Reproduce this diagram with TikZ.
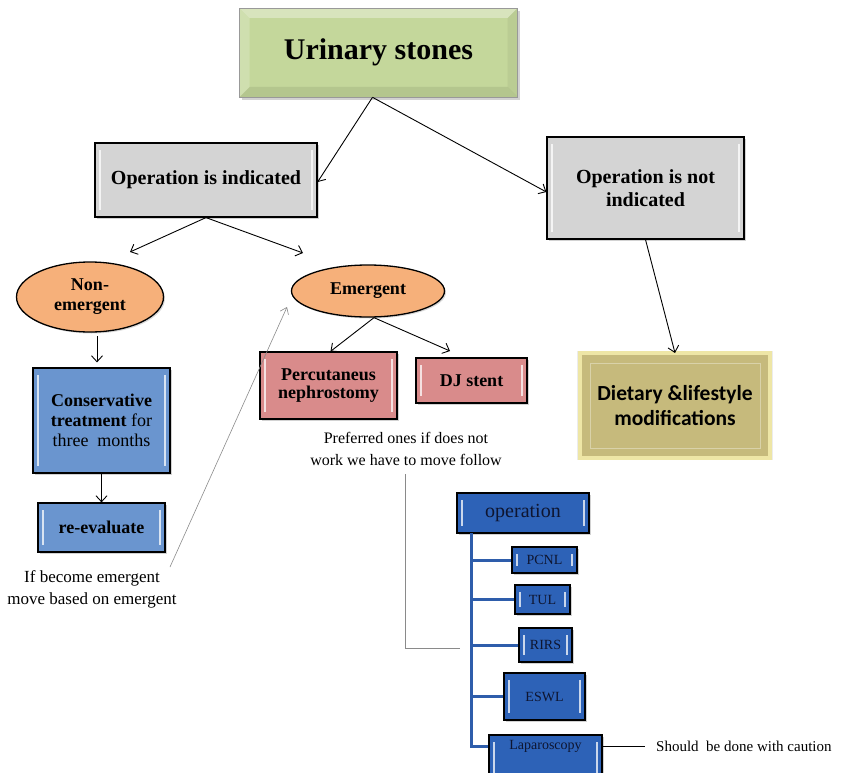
\documentclass[tikz,border=0pt]{standalone}
\usepackage{fontspec}
\setmainfont{Liberation Serif}
\newfontfamily\calib{Carlito}
\usetikzlibrary{shapes.geometric,arrows.meta,shadows}
\definecolor{cgreen}{HTML}{C4D79B}
\definecolor{cgray}{HTML}{D4D4D4}
\definecolor{corange}{HTML}{F6B07A}
\definecolor{cblue}{HTML}{6A95CF}
\definecolor{cpink}{HTML}{D98B8B}
\definecolor{colive}{HTML}{C6BA7C}
\definecolor{cglow}{HTML}{EEE6A6}
\definecolor{cdblue}{HTML}{2D62B7}
\definecolor{cbline}{HTML}{2E5DAB}
\definecolor{cnavy}{HTML}{0E1530}
\definecolor{cgline}{HTML}{8A8A8A}
\tikzset{
  bevel/.style={path picture={
    \draw[white,opacity=.75,line width=2pt]
      ([xshift=5pt,yshift=-7pt]path picture bounding box.north west) --
      ([xshift=5pt,yshift=7pt]path picture bounding box.south west);
    \draw[white,opacity=.75,line width=2pt]
      ([xshift=-5pt,yshift=-7pt]path picture bounding box.north east) --
      ([xshift=-5pt,yshift=7pt]path picture bounding box.south east);}},
  boxbase/.style={rectangle,draw=black,line width=1.2pt,align=center,
    drop shadow={shadow xshift=2pt,shadow yshift=-2pt,opacity=.35},inner sep=2pt},
  graybox/.style={boxbase,fill=cgray,bevel,font=\bfseries\fontsize{20}{23}\selectfont},
  bluebox/.style={boxbase,fill=cblue,bevel,font=\bfseries\fontsize{18}{20}\selectfont},
  pinkbox/.style={boxbase,fill=cpink,bevel,font=\bfseries\fontsize{18}{18.5}\selectfont},
  opbox/.style={boxbase,fill=cdblue,bevel,text=cnavy,font=\fontsize{14}{16}\selectfont},
  ell/.style={ellipse,draw=black,line width=1.3pt,fill=corange,align=center,
    inner sep=0pt,font=\bfseries\fontsize{18}{20}\selectfont,
    drop shadow={shadow xshift=1.5pt,shadow yshift=-1.5pt,opacity=.3}},
  arr/.style={draw=black,line width=0.9pt,-{Straight Barb[length=6pt,width=11pt]}},
  grayarr/.style={draw=cgline,line width=0.6pt,-{Straight Barb[length=6pt,width=9pt]}},
  bline/.style={draw=cbline,line width=3pt},
  plain/.style={align=center,font=\fontsize{16}{22}\selectfont},
}
\begin{document}
\begin{tikzpicture}[x=1pt,y=-1pt]
\useasboundingbox[fill=white] (0,0) rectangle (848,773);
% title
\node[rectangle,fill=cgreen,draw=black!40,line width=0.6pt,
  minimum width=278pt,minimum height=89pt,
  drop shadow={shadow xshift=2pt,shadow yshift=-3pt,opacity=.35},
  path picture={
    \fill[white,opacity=.35] (path picture bounding box.north west) --
      (path picture bounding box.north east) --
      ([xshift=-10pt,yshift=-10pt]path picture bounding box.north east) --
      ([xshift=10pt,yshift=-10pt]path picture bounding box.north west) -- cycle;
    \fill[white,opacity=.2] (path picture bounding box.north west) --
      ([xshift=10pt,yshift=-10pt]path picture bounding box.north west) --
      ([xshift=10pt,yshift=10pt]path picture bounding box.south west) --
      (path picture bounding box.south west) -- cycle;
    \fill[black,opacity=.08] (path picture bounding box.south west) --
      ([xshift=10pt,yshift=10pt]path picture bounding box.south west) --
      ([xshift=-10pt,yshift=10pt]path picture bounding box.south east) --
      (path picture bounding box.south east) -- cycle;
    \fill[black,opacity=.05] (path picture bounding box.north east) --
      ([xshift=-10pt,yshift=-10pt]path picture bounding box.north east) --
      ([xshift=-10pt,yshift=10pt]path picture bounding box.south east) --
      (path picture bounding box.south east) -- cycle;},
  font=\bfseries\fontsize{30}{34}\selectfont] (us) at (378.5,52.5) {Urinary stones};
% level 2
\node[graybox,minimum width=222pt,minimum height=74pt] (opi) at (206,180) {Operation is indicated};
\node[graybox,minimum width=197pt,minimum height=102pt] (opn) at (645.5,188) {Operation is not\\indicated};
% ellipses
\node[ell,minimum width=147pt,minimum height=70pt] (ne) at (90,297) {Non-\\emergent};
\node[ell,minimum width=153pt,minimum height=52pt] (em) at (368,291) {Emergent};
% left column
\node[bluebox,minimum width=137pt,minimum height=105pt] (ct) at (101.5,420.5)
  {Conservative\\treatment \textmd{for}\\\textmd{three\ \ months}};
\node[bluebox,minimum width=127pt,minimum height=49pt] (re) at (101.5,527.5) {re-evaluate};
\node[plain,font=\fontsize{17}{22}\selectfont] (ifb) at (92,589) {If become emergent\\move based on emergent};
% emergent children
\node[pinkbox,minimum width=137pt,minimum height=67pt] (pn) at (328.5,385.5) {Percutaneus\\nephrostomy};
\node[pinkbox,minimum width=111pt,minimum height=45pt] (dj) at (471.5,380.5) {DJ stent};
\node[plain] (pref) at (406,449) {Preferred ones if does not\\work we have to move follow};
% dietary
\node[rectangle,fill=colive,draw=cglow,line width=4pt,align=center,
  minimum width=190pt,minimum height=105pt,
  drop shadow={shadow xshift=0pt,shadow yshift=0pt,opacity=.15,shadow scale=1.03},
  path picture={
    \draw[white,opacity=.35,line width=1pt]
      ([xshift=10pt,yshift=-10pt]path picture bounding box.north west) rectangle
      ([xshift=-10pt,yshift=10pt]path picture bounding box.south east);},
  font=\calib\bfseries\fontsize{21.5}{25}\selectfont] (dl) at (675,405.5) {Dietary \&lifestyle\\modifications};
% operation list
\node[opbox,minimum width=132pt,minimum height=40pt,font=\fontsize{20}{22}\selectfont] (op) at (523,513) {operation};
\node[opbox,minimum width=65pt,minimum height=26pt] (pcnl) at (544.5,560) {PCNL};
\node[opbox,minimum width=55pt,minimum height=29pt] (tul) at (542.5,599.5) {TUL};
\node[opbox,minimum width=53pt,minimum height=34pt] (rirs) at (545.5,645) {RIRS};
\node[opbox,minimum width=81pt,minimum height=47pt] (eswl) at (544.5,696.5) {ESWL};
\node[opbox,minimum width=113pt,minimum height=46pt] (lap) at (545.5,758) {};
\node[text=cnavy,font=\fontsize{14}{16}\selectfont,inner sep=0pt] (laptext) at (545.5,746) {Laparoscopy};
\node[anchor=west,font=\fontsize{15}{18}\selectfont,inner sep=0pt] (caut) at (656,746) {Should\ \ be done with caution};
% coordinates
\coordinate (neT) at (130,252);
\coordinate (emT) at (303,253);
\coordinate (neB) at (97,336);
\coordinate (djT) at (450,351);
\coordinate (g1) at (170,567);
\coordinate (g2) at (287,307);
\coordinate (g3) at (405,474);
\coordinate (g4) at (460,648);
\coordinate (b0) at (471,533);
\coordinate (cautL) at (645,746);
% connectors
\draw[arr] ([xshift=-6pt]us.south) -- ([yshift=-2pt]opi.east);
\draw[arr] ([xshift=-6pt]us.south) -- ([yshift=-4pt]opn.west);
\draw[arr] (opi.south) -- (neT);
\draw[arr] (opi.south) -- (emT);
\draw[arr,shorten >=5pt] (neB) -- (neB |- ct.north);
\draw[arr] (ct.south) -- (re.north);
\draw[grayarr] (g1) -- (g2);
\draw[arr] ([xshift=6pt]em.south) -- ([xshift=2pt]pn.north);
\draw[arr] ([xshift=6pt]em.south) -- (djT);
\draw[arr] (opn.south) -- ([yshift=-2pt]dl.north);
\draw[draw=cgline,line width=0.7pt] (g3) |- (g4);
\draw[bline] (b0) |- (lap.west |- laptext);
\draw[bline] (b0 |- pcnl) -- (pcnl.west);
\draw[bline] (b0 |- tul) -- (tul.west);
\draw[bline] (b0 |- rirs) -- (rirs.west);
\draw[bline] (b0 |- eswl) -- (eswl.west);
\draw[line width=0.9pt] (lap.east |- laptext) -- (cautL);
\end{tikzpicture}
\end{document}
